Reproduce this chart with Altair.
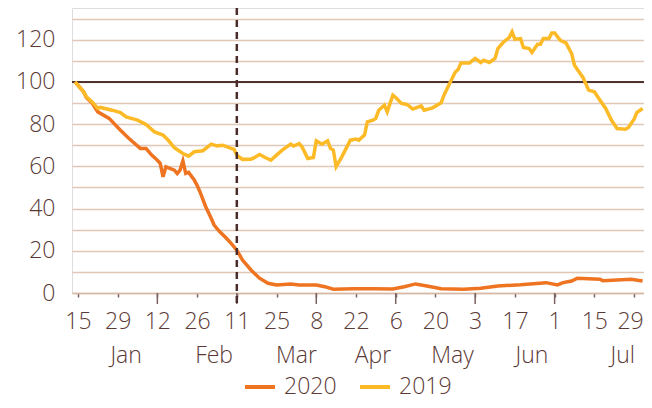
import altair as alt
import pandas as pd

# ---------------- data ----------------
start = "2020-01-15"

days_2020 = [-1, 2, 3, 5, 7, 11, 15, 18, 20, 22, 24, 26, 28, 29, 30, 31, 34, 35, 36, 37,
             38, 39, 41, 42, 43, 45, 47, 48, 50, 52, 54, 56, 58, 61, 64, 67, 70, 75, 78, 84,
             87, 90, 97, 104, 111, 115, 119, 123, 128, 136, 142, 148, 156, 165, 169, 171,
             174, 176, 184, 185, 195, 199]
vals_2020 = [100, 95.3, 92.5, 90, 85.8, 82.7, 77.1, 73.2, 70.8, 68.5, 68.5, 65.3, 62.9, 61.4,
             55, 59.8, 58.2, 56.6, 58.2, 62.5, 56.6, 57.1, 53.5, 51, 48, 41, 35.3, 32.2, 29,
             26.4, 23.5, 20.3, 15.6, 10.9, 7, 4.6, 3.8, 4.3, 3.8, 3.8, 3, 1.8, 2, 2, 1.9, 3,
             4.3, 3.3, 2, 1.8, 2.2, 3.3, 3.9, 4.9, 3.8, 4.9, 5.7, 7, 6.5, 5.8, 6.5, 5.7]

days_2019 = [-1, 2, 3, 5, 7, 8, 12, 15, 17, 21, 24, 27, 30, 32, 34, 37, 39, 41, 44, 47, 49,
             51, 54, 55, 56, 58, 61, 62, 64, 66, 68, 70, 72, 75, 76, 78, 79, 81, 83, 84, 86,
             88, 89, 90, 91, 93, 96, 98, 99, 101, 102, 104, 105, 106, 108, 109, 110, 111,
             112, 114, 116, 118, 121, 122, 125, 128, 129, 131, 133, 134, 135, 138, 140, 142,
             143, 145, 147, 148, 150, 152, 153, 154, 156, 157, 159, 160, 162, 163, 164, 166,
             167, 168, 170, 172, 174, 175, 177, 178, 180, 182, 184, 186, 188, 190, 193, 194,
             196, 197, 199]
vals_2019 = [100, 95.3, 92.9, 90.5, 87.4, 87.9, 86.6, 85.5, 83.4, 81.9, 79.8, 76.3, 74.8, 72.1,
             68.8, 66.1, 64.8, 66.9, 67.4, 70.5, 69.7, 70, 68.5, 68.1, 65.3, 63.3, 63.4, 64,
             65.6, 64.2, 62.9, 65.3, 67.7, 70.5, 69.6, 70.8, 69.2, 63.7, 64.2, 72.1, 70.5,
             72.1, 68.5, 67.7, 59.8, 64.5, 72.4, 72.9, 72.4, 74.8, 81.1, 81.9, 82.7, 86.6, 89,
             85.8, 89.8, 93.7, 92.6, 89.8, 89.3, 87.1, 88.6, 86.6, 87.7, 90.1, 93.7, 99.2,
             104.7, 105.9, 109, 109, 111.1, 109.2, 110.3, 109.2, 111.1, 115.8, 118.9, 121,
             123.7, 120.2, 120.5, 116.3, 115.8, 113.9, 117.8, 117.8, 120.5, 120.5, 123.2, 123.2,
             119.7, 118.5, 113.4, 107.9, 104, 102.1, 96.1, 95.3, 91.3, 87.4, 81.9, 77.9, 77.6,
             78.4, 82.3, 85.5, 87.4]

tick_dates = ["2020-01-15", "2020-01-29", "2020-02-12", "2020-02-26", "2020-03-11",
              "2020-03-25", "2020-04-08", "2020-04-22", "2020-05-06", "2020-05-20",
              "2020-06-03", "2020-06-17", "2020-07-01", "2020-07-15", "2020-07-29"]
long_tick_dates = ["2020-02-12", "2020-03-11", "2020-04-08", "2020-05-06", "2020-06-03",
                   "2020-07-01"]
month_names = ["Jan", "Feb", "Mar", "Apr", "May", "Jun", "Jul"]
month_label_dates = ["2020-02-01", "2020-03-03", "2020-04-01", "2020-04-28", "2020-05-26",
                     "2020-06-23", "2020-07-25"]
event_date = ["2020-03-11"]
reference_level = [100]
series_names = ["2020", "2019"]

# ---------------- style ----------------
ORANGE = "#EE7421"
YELLOW = "#FDBA27"
TEXT = "#5B3A36"
GRID = "#DFC8B8"
DARK = "#4E3230"
TICK = "#7A6262"
FONT = "Open Sans"
W, H = 572, 285

t0 = pd.Timestamp(start)
df20 = pd.DataFrame({"date": t0 + pd.to_timedelta(days_2020, unit="D"),
                     "value": vals_2020, "series": series_names[0]})
df19 = pd.DataFrame({"date": t0 + pd.to_timedelta(days_2019, unit="D"),
                     "value": vals_2019, "series": series_names[1]})


def dt(s, hours=0):
    ts = pd.Timestamp(s)
    return alt.DateTime(year=ts.year, month=ts.month, date=ts.day, hours=hours)


x_scale = alt.Scale(domain=[dt("2020-01-12", 22), dt("2020-08-01", 12)])
y_scale = alt.Scale(domain=[0, 135], nice=False)

# nudge the last tick label so it stays inside the canvas
last_label_offset = {"condition": {"test": "datum.value > datetime(2020, 6, 20)", "value": -4},
                     "value": 0}

x_axis = alt.Axis(values=[dt(d) for d in tick_dates], format="%-d", labelFontSize=23,
                  labelColor=TEXT, labelFont=FONT, labelFontWeight=300, tickSize=4,
                  tickColor=TICK, tickWidth=1.5, labelOffset=last_label_offset,
                  domainColor="#D6B8A4", domainWidth=1.5, labelPadding=13, grid=False,
                  title=None, labelFlush=False, labelOverlap=False)
y_axis = alt.Axis(values=list(range(0, 140, 10)),
                  labelExpr="datum.value % 20 == 0 && datum.value <= 120 ? datum.label : ''",
                  grid=True, gridColor=GRID, gridWidth=1.5, ticks=False, domain=False,
                  labelFontSize=23, labelColor=TEXT, labelFont=FONT, labelFontWeight=300,
                  labelPadding=17, title=None)

x_enc = alt.X("date:T", scale=x_scale, axis=x_axis, title=None)
y_enc = alt.Y("value:Q", scale=y_scale, axis=y_axis, title=None)

color_enc = alt.Color("series:N",
                      scale=alt.Scale(domain=series_names, range=[ORANGE, YELLOW]),
                      legend=alt.Legend(orient="none", legendX=171, legendY=362,
                                        direction="horizontal", title=None,
                                        symbolType="stroke", symbolSize=900,
                                        symbolStrokeWidth=4, labelFontSize=23,
                                        labelFontWeight=300,
                                        labelColor=TEXT, labelFont=FONT, columnPadding=15,
                                        labelOffset=7, padding=0))

line20 = alt.Chart(df20).mark_line(strokeWidth=3.5).encode(x=x_enc, y=y_enc, color=color_enc)
line19 = alt.Chart(df19).mark_line(strokeWidth=3.5).encode(x=x_enc, y=y_enc, color=color_enc)

href = alt.Chart(pd.DataFrame({"value": reference_level})).mark_rule(
    color=DARK, strokeWidth=2).encode(y=y_enc)

vline = alt.Chart(pd.DataFrame({"date": pd.to_datetime(event_date)})).mark_rule(
    color="#4A2C2A", strokeWidth=2.5, strokeDash=[7, 5]).encode(
    x=x_enc, y=alt.value(0), y2=alt.value(H + 11))

long_ticks = alt.Chart(pd.DataFrame({"date": pd.to_datetime(long_tick_dates)})).mark_rule(
    color=TICK, strokeWidth=1.5).encode(x=x_enc, y=alt.value(H), y2=alt.value(H + 11))

months = alt.Chart(pd.DataFrame({"date": pd.to_datetime(month_label_dates),
                                 "m": month_names})).mark_text(
    fontSize=23, fontWeight=300, color=TEXT, font=FONT, baseline="middle",
    align="center").encode(x=x_enc, y=alt.value(H + 63), text="m:N")

chart = alt.layer(href, long_ticks, line20, line19, vline, months).properties(
    width=W, height=H,
    padding={"left": 64, "top": 0, "right": 0, "bottom": 107},
    autosize=alt.AutoSizeParams(type="none"),
).configure_view(stroke=None).configure(font=FONT)

chart.save("out.html", embed_options={"renderer": "svg", "actions": False})
